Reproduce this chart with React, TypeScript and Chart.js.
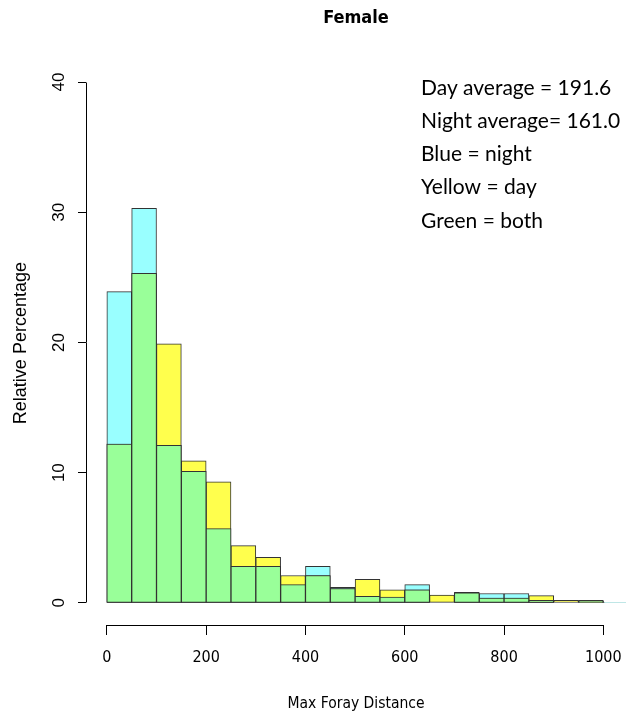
import React, { useEffect, useRef } from 'react';
import { Chart, registerables } from 'chart.js';

Chart.register(...registerables);

// ---- data ----
const binStarts = [0, 50, 100, 150, 200, 250, 300, 350, 400, 450, 500, 550, 600, 650, 700, 750, 800, 850, 900, 950, 1000];
const binWidth = 50;
const nightPct = [23.9, 30.3, 12.1, 10.1, 5.7, 2.8, 2.8, 1.4, 2.8, 1.2, 0.5, 0.45, 1.4, 0, 0.8, 0.72, 0.72, 0.2, 0, 0.2, 0.05];
const dayPct = [12.2, 25.3, 19.9, 10.9, 9.3, 4.4, 3.5, 2.1, 2.1, 1.1, 1.8, 1.0, 1.0, 0.6, 0.78, 0.36, 0.36, 0.55, 0.2, 0.12, 0];
const xTickValues = [0, 200, 400, 600, 800, 1000];
const yTickValues = [0, 10, 20, 30, 40];
const noteLines = ['Day average = 191.6', 'Night average= 161.0', 'Blue = night', 'Yellow = day', 'Green = both'];
const chartTitle = 'Female';
const xTitle = 'Max Foray Distance';
const yTitle = 'Relative Percentage';

const COND = "'DejaVu Sans Condensed', 'Liberation Sans Narrow', 'Liberation Sans', Arial, sans-serif";
const SANS = "'Liberation Sans', Arial, sans-serif";

const alignPx = (p: number) => Math.round(p - 0.5) + 0.5;

const rAxesPlugin = {
  id: 'rAxes',
  afterDraw(chart: any) {
    const { ctx, chartArea, scales } = chart;
    const xs = scales.x;
    const ys = scales.y;
    ctx.save();
    ctx.strokeStyle = '#000';
    ctx.lineWidth = 1;
    // y axis line (0..40)
    const ax = alignPx(chartArea.left);
    ctx.beginPath();
    ctx.moveTo(ax, alignPx(ys.getPixelForValue(yTickValues[0])));
    ctx.lineTo(ax, alignPx(ys.getPixelForValue(yTickValues[yTickValues.length - 1])));
    ctx.stroke();
    // x axis line (0..1000)
    const ay = alignPx(chartArea.bottom);
    ctx.beginPath();
    ctx.moveTo(alignPx(xs.getPixelForValue(xTickValues[0])), ay);
    ctx.lineTo(alignPx(xs.getPixelForValue(xTickValues[xTickValues.length - 1])), ay);
    ctx.stroke();
    // annotation text
    ctx.fillStyle = '#000';
    ctx.font = "21px Lato, 'Open Sans', sans-serif";
    ctx.textAlign = 'left';
    ctx.textBaseline = 'alphabetic';
    noteLines.forEach((t, i) => {
      ctx.fillText(t, 421, 94.5 + i * 33.25);
    });
    ctx.restore();
  },
};

export default function App() {
  const canvasRef = useRef<HTMLCanvasElement | null>(null);

  useEffect(() => {
    document.body.style.margin = '0';
    const canvas = canvasRef.current;
    if (!canvas) return;
    const toPts = (arr: number[]) =>
      binStarts.map((s, i) => ({ x: s + binWidth / 2, y: arr[i] > 0 ? arr[i] : null }));
    const bothPct = nightPct.map((n, i) => Math.min(n, dayPct[i]));
    const common = {
      borderColor: '#333333',
      borderWidth: 1,
      borderSkipped: false as const,
      grouped: false,
      barPercentage: 1,
      categoryPercentage: 1,
    };
    const chart = new Chart(canvas, {
      type: 'bar',
      data: {
        datasets: [
          { label: 'Both', data: toPts(bothPct) as any, backgroundColor: '#99FF99', ...common },
          { label: 'Day', data: toPts(dayPct) as any, backgroundColor: '#FFFF4D', ...common },
          { label: 'Night', data: toPts(nightPct) as any, backgroundColor: '#99FFFF', ...common },
        ],
      },
      options: {
        animation: false,
        responsive: false,
        devicePixelRatio: 1,
        layout: { padding: { top: 0, left: 0, right: 0, bottom: 0 } },
        plugins: {
          legend: { display: false },
          tooltip: { enabled: false },
          title: {
            display: true,
            text: chartTitle,
            fullSize: false,
            color: '#000',
            font: { family: COND, size: 18, weight: 'bold' },
            padding: { top: 8, bottom: 31.6 },
          },
        },
        scales: {
          x: {
            type: 'linear',
            min: -42,
            max: 1045.6,
            offset: false,
            afterBuildTicks: (s: any) => {
              s.ticks = xTickValues.map((v) => ({ value: v }));
            },
            afterFit: (s: any) => {
              s.height = 92;
              s.paddingLeft = 0;
              s.paddingRight = 0;
            },
            border: { display: false },
            grid: { display: true, drawOnChartArea: false, drawTicks: true, tickLength: 10, color: '#000', offset: false },
            ticks: {
              color: '#000',
              padding: 13.5,
              maxRotation: 0,
              autoSkip: false,
              font: { family: COND, size: 16 },
              callback: (v: any) => String(v),
            },
            title: {
              display: true,
              text: xTitle,
              color: '#000',
              font: { family: COND, size: 15.5 },
              padding: { top: 0, bottom: 4 },
            },
          },
          y: {
            type: 'linear',
            min: -1.7,
            max: 41.6,
            afterBuildTicks: (s: any) => {
              s.ticks = yTickValues.map((v) => ({ value: v }));
            },
            afterFit: (s: any) => {
              s.width = 86;
              s.paddingTop = 0;
              s.paddingBottom = 0;
            },
            border: { display: false },
            grid: { display: true, drawOnChartArea: false, drawTicks: true, tickLength: 8, color: '#000' },
            ticks: {
              color: '#000',
              padding: 9.5,
              minRotation: 90,
              maxRotation: 90,
              crossAlign: 'center',
              autoSkip: false,
              font: { family: SANS, size: 17 },
              callback: (v: any) => String(v),
            },
            title: {
              display: true,
              text: yTitle,
              color: '#000',
              font: { family: SANS, size: 18 },
              padding: { top: 10.7, bottom: 0 },
            },
          },
        },
      },
      plugins: [rAxesPlugin],
    });
    return () => chart.destroy();
  }, []);

  return (
    <div style={{ position: 'absolute', left: 0, top: 0, width: 626, height: 717, background: '#fff' }}>
      <canvas ref={canvasRef} width={626} height={717} />
    </div>
  );
}
